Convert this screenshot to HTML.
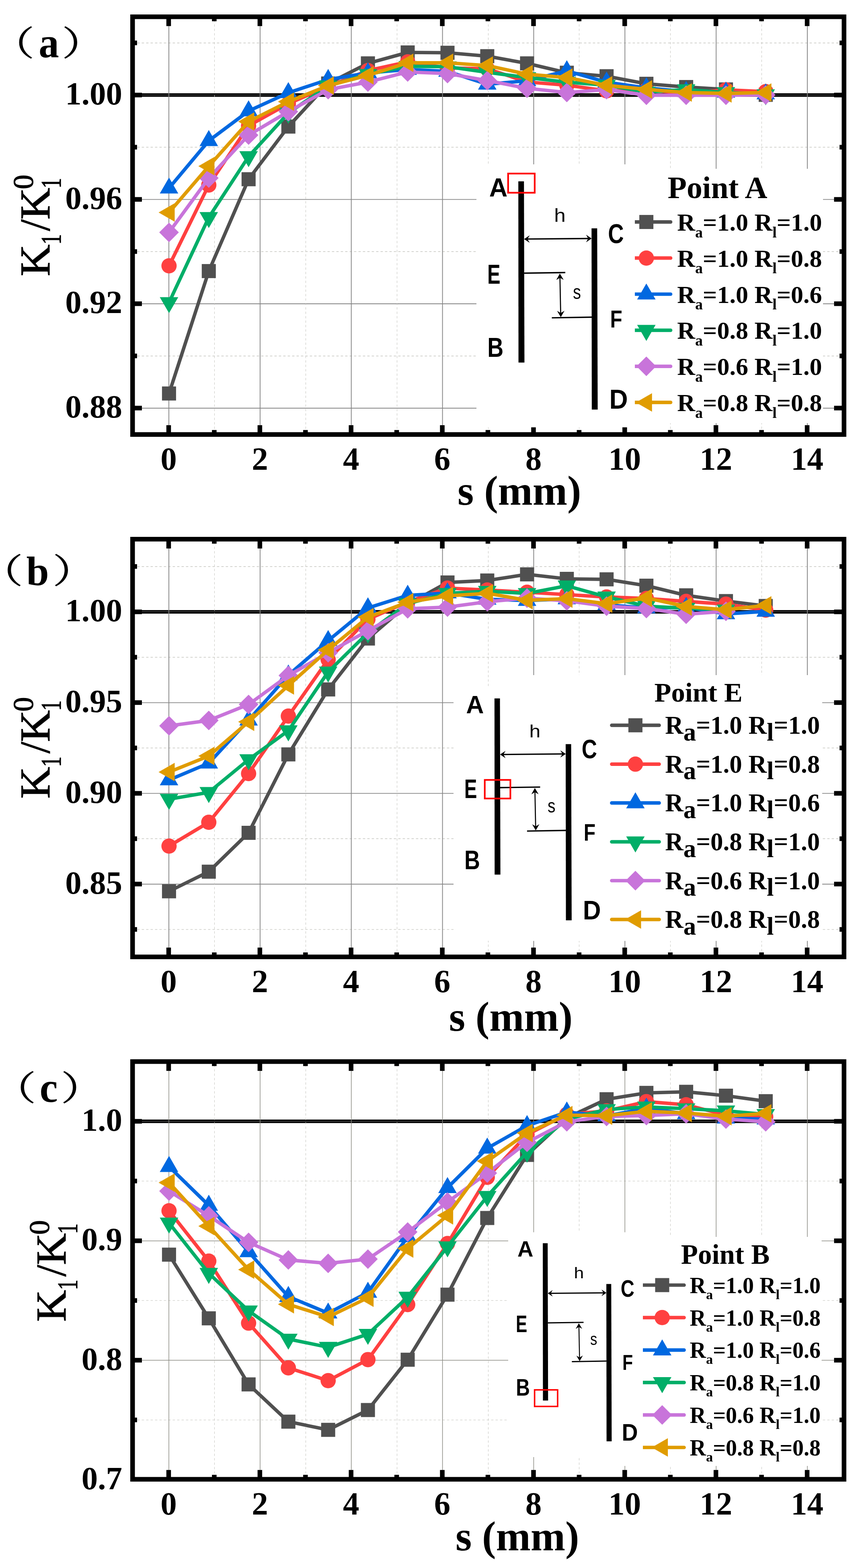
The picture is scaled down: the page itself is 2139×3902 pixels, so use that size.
<!DOCTYPE html>
<html lang="en"><head><meta charset="utf-8"><title>K1/K1^0 versus s</title>
<style>
html,body{margin:0;padding:0;background:#fff;overflow:hidden}
svg{display:block}
text{fill:#000}
</style></head>
<body>
<svg width="2139" height="3902" viewBox="0 0 2139 3902">
<rect width="2139" height="3902" fill="#fff"/>
<g stroke="#cdcdc8" fill="none" stroke-dasharray="5.8 5.2">
<path d="M341.5,106.8 H2093.5" stroke-width="1.7"/>
<path d="M341.5,366.4 H2093.5" stroke-width="1.7"/>
<path d="M341.5,626.1 H2093.5" stroke-width="1.7"/>
<path d="M341.5,885.8 H2093.5" stroke-width="1.7"/>
</g>
<g stroke="#858585" stroke-width="1.9" fill="none">
<path d="M335.5,496.4 H2093.5"/>
<path d="M335.5,756.0 H2093.5"/>
<path d="M335.5,1015.7 H2093.5"/>
</g>
<rect x="335.5" y="232.15" width="1758.0" height="8.7" fill="#000"/>
<rect x="335.5" y="236.00" width="1758.0" height="0.9" fill="#888"/>
<g stroke="#c6c6c1" fill="none" stroke-dasharray="5.8 5.2" stroke-width="1.1">
<path d="M533.5,49.5 V1075.5"/>
<path d="M760.5,49.5 V1075.5"/>
<path d="M987.5,49.5 V1075.5"/>
<path d="M1214.5,49.5 V1075.5"/>
<path d="M1440.5,49.5 V1075.5"/>
<path d="M1667.5,49.5 V1075.5"/>
<path d="M1894.5,49.5 V1075.5"/>
</g>
<g stroke="#858585" stroke-width="1.9" fill="none">
<path d="M420.0,47.5 V1075.5"/>
<path d="M646.9,47.5 V1075.5"/>
<path d="M873.7,47.5 V1075.5"/>
<path d="M1100.6,47.5 V1075.5"/>
<path d="M1327.4,47.5 V1075.5"/>
<path d="M1554.3,47.5 V1075.5"/>
<path d="M1781.2,47.5 V1075.5"/>
<path d="M2008.0,47.5 V1075.5"/>
</g>
<polyline points="420.4,979.2 519.3,674.6 618.3,446.0 717.2,315.0 816.2,207.8 915.1,157.7 1014.0,130.5 1113.0,131.3 1211.9,139.8 1310.9,157.7 1409.8,181.0 1508.7,189.7 1607.7,208.5 1706.6,216.6 1805.6,222.5 1904.5,236.0" fill="none" stroke="#505050" stroke-width="8.6" stroke-linejoin="round"/>
<rect x="402.9" y="961.7" width="35" height="35" fill="#505050"/><rect x="501.8" y="657.1" width="35" height="35" fill="#505050"/><rect x="600.8" y="428.5" width="35" height="35" fill="#505050"/><rect x="699.7" y="297.5" width="35" height="35" fill="#505050"/><rect x="798.7" y="190.3" width="35" height="35" fill="#505050"/><rect x="897.6" y="140.2" width="35" height="35" fill="#505050"/><rect x="996.5" y="113.0" width="35" height="35" fill="#505050"/><rect x="1095.5" y="113.8" width="35" height="35" fill="#505050"/><rect x="1194.4" y="122.3" width="35" height="35" fill="#505050"/><rect x="1293.4" y="140.2" width="35" height="35" fill="#505050"/><rect x="1392.3" y="163.5" width="35" height="35" fill="#505050"/><rect x="1491.2" y="172.2" width="35" height="35" fill="#505050"/><rect x="1590.2" y="191.0" width="35" height="35" fill="#505050"/><rect x="1689.1" y="199.1" width="35" height="35" fill="#505050"/><rect x="1788.1" y="205.0" width="35" height="35" fill="#505050"/><rect x="1887.0" y="218.5" width="35" height="35" fill="#505050"/>
<polyline points="420.4,661.5 519.3,460.4 618.3,313.0 717.2,258.0 816.2,215.0 915.1,175.5 1014.0,154.0 1113.0,169.0 1211.9,171.0 1310.9,204.0 1409.8,212.0 1508.7,226.0 1607.7,224.5 1706.6,232.0 1805.6,223.5 1904.5,228.0" fill="none" stroke="#FF4040" stroke-width="8.6" stroke-linejoin="round"/>
<circle cx="420.4" cy="661.5" r="19" fill="#FF4040"/><circle cx="519.3" cy="460.4" r="19" fill="#FF4040"/><circle cx="618.3" cy="313.0" r="19" fill="#FF4040"/><circle cx="717.2" cy="258.0" r="19" fill="#FF4040"/><circle cx="816.2" cy="215.0" r="19" fill="#FF4040"/><circle cx="915.1" cy="175.5" r="19" fill="#FF4040"/><circle cx="1014.0" cy="154.0" r="19" fill="#FF4040"/><circle cx="1113.0" cy="169.0" r="19" fill="#FF4040"/><circle cx="1211.9" cy="171.0" r="19" fill="#FF4040"/><circle cx="1310.9" cy="204.0" r="19" fill="#FF4040"/><circle cx="1409.8" cy="212.0" r="19" fill="#FF4040"/><circle cx="1508.7" cy="226.0" r="19" fill="#FF4040"/><circle cx="1607.7" cy="224.5" r="19" fill="#FF4040"/><circle cx="1706.6" cy="232.0" r="19" fill="#FF4040"/><circle cx="1805.6" cy="223.5" r="19" fill="#FF4040"/><circle cx="1904.5" cy="228.0" r="19" fill="#FF4040"/>
<polyline points="420.4,468.3 519.3,350.2 618.3,276.2 717.2,230.8 816.2,198.0 915.1,181.5 1014.0,173.0 1113.0,177.6 1211.9,209.6 1310.9,201.0 1409.8,176.4 1508.7,204.7 1607.7,218.7 1706.6,228.0 1805.6,229.7 1904.5,234.0" fill="none" stroke="#0068E0" stroke-width="8.6" stroke-linejoin="round"/>
<polygon points="420.4,441.7 397.4,481.6 443.4,481.6" fill="#0068E0"/><polygon points="519.3,323.6 496.3,363.5 542.3,363.5" fill="#0068E0"/><polygon points="618.3,249.6 595.3,289.5 641.3,289.5" fill="#0068E0"/><polygon points="717.2,204.2 694.2,244.1 740.2,244.1" fill="#0068E0"/><polygon points="816.2,171.4 793.2,211.3 839.2,211.3" fill="#0068E0"/><polygon points="915.1,154.9 892.1,194.8 938.1,194.8" fill="#0068E0"/><polygon points="1014.0,146.4 991.0,186.3 1037.0,186.3" fill="#0068E0"/><polygon points="1113.0,151.0 1090.0,190.9 1136.0,190.9" fill="#0068E0"/><polygon points="1211.9,183.0 1188.9,222.9 1234.9,222.9" fill="#0068E0"/><polygon points="1310.9,174.4 1287.9,214.3 1333.9,214.3" fill="#0068E0"/><polygon points="1409.8,149.8 1386.8,189.7 1432.8,189.7" fill="#0068E0"/><polygon points="1508.7,178.1 1485.7,218.0 1531.7,218.0" fill="#0068E0"/><polygon points="1607.7,192.1 1584.7,232.0 1630.7,232.0" fill="#0068E0"/><polygon points="1706.6,201.4 1683.6,241.3 1729.6,241.3" fill="#0068E0"/><polygon points="1805.6,203.1 1782.6,243.0 1828.6,243.0" fill="#0068E0"/><polygon points="1904.5,207.4 1881.5,247.3 1927.5,247.3" fill="#0068E0"/>
<polyline points="420.4,752.7 519.3,541.0 618.3,389.5 717.2,281.3 816.2,213.5 915.1,185.0 1014.0,165.0 1113.0,166.0 1211.9,180.0 1310.9,193.0 1409.8,204.5 1508.7,212.0 1607.7,229.0 1706.6,223.0 1805.6,230.0 1904.5,235.5" fill="none" stroke="#00AE68" stroke-width="8.6" stroke-linejoin="round"/>
<polygon points="420.4,779.3 397.4,739.4 443.4,739.4" fill="#00AE68"/><polygon points="519.3,567.6 496.3,527.7 542.3,527.7" fill="#00AE68"/><polygon points="618.3,416.1 595.3,376.2 641.3,376.2" fill="#00AE68"/><polygon points="717.2,307.9 694.2,268.0 740.2,268.0" fill="#00AE68"/><polygon points="816.2,240.1 793.2,200.2 839.2,200.2" fill="#00AE68"/><polygon points="915.1,211.6 892.1,171.7 938.1,171.7" fill="#00AE68"/><polygon points="1014.0,191.6 991.0,151.7 1037.0,151.7" fill="#00AE68"/><polygon points="1113.0,192.6 1090.0,152.7 1136.0,152.7" fill="#00AE68"/><polygon points="1211.9,206.6 1188.9,166.7 1234.9,166.7" fill="#00AE68"/><polygon points="1310.9,219.6 1287.9,179.7 1333.9,179.7" fill="#00AE68"/><polygon points="1409.8,231.1 1386.8,191.2 1432.8,191.2" fill="#00AE68"/><polygon points="1508.7,238.6 1485.7,198.7 1531.7,198.7" fill="#00AE68"/><polygon points="1607.7,255.6 1584.7,215.7 1630.7,215.7" fill="#00AE68"/><polygon points="1706.6,249.6 1683.6,209.7 1729.6,209.7" fill="#00AE68"/><polygon points="1805.6,256.6 1782.6,216.7 1828.6,216.7" fill="#00AE68"/><polygon points="1904.5,262.1 1881.5,222.2 1927.5,222.2" fill="#00AE68"/>
<polyline points="420.4,578.3 519.3,443.1 618.3,336.2 717.2,277.8 816.2,223.0 915.1,204.2 1014.0,179.2 1113.0,183.0 1211.9,200.6 1310.9,219.7 1409.8,230.2 1508.7,223.0 1607.7,237.0 1706.6,237.0 1805.6,237.0 1904.5,236.3" fill="none" stroke="#C874DA" stroke-width="8.6" stroke-linejoin="round"/>
<polygon points="420.4,553.9 444.8,578.3 420.4,602.7 396.0,578.3" fill="#C874DA"/><polygon points="519.3,418.7 543.7,443.1 519.3,467.5 494.9,443.1" fill="#C874DA"/><polygon points="618.3,311.8 642.7,336.2 618.3,360.6 593.9,336.2" fill="#C874DA"/><polygon points="717.2,253.4 741.6,277.8 717.2,302.2 692.8,277.8" fill="#C874DA"/><polygon points="816.2,198.6 840.6,223.0 816.2,247.4 791.8,223.0" fill="#C874DA"/><polygon points="915.1,179.8 939.5,204.2 915.1,228.6 890.7,204.2" fill="#C874DA"/><polygon points="1014.0,154.8 1038.4,179.2 1014.0,203.6 989.6,179.2" fill="#C874DA"/><polygon points="1113.0,158.6 1137.4,183.0 1113.0,207.4 1088.6,183.0" fill="#C874DA"/><polygon points="1211.9,176.2 1236.3,200.6 1211.9,225.0 1187.5,200.6" fill="#C874DA"/><polygon points="1310.9,195.3 1335.3,219.7 1310.9,244.1 1286.5,219.7" fill="#C874DA"/><polygon points="1409.8,205.8 1434.2,230.2 1409.8,254.6 1385.4,230.2" fill="#C874DA"/><polygon points="1508.7,198.6 1533.1,223.0 1508.7,247.4 1484.3,223.0" fill="#C874DA"/><polygon points="1607.7,212.6 1632.1,237.0 1607.7,261.4 1583.3,237.0" fill="#C874DA"/><polygon points="1706.6,212.6 1731.0,237.0 1706.6,261.4 1682.2,237.0" fill="#C874DA"/><polygon points="1805.6,212.6 1830.0,237.0 1805.6,261.4 1781.2,237.0" fill="#C874DA"/><polygon points="1904.5,211.9 1928.9,236.3 1904.5,260.7 1880.1,236.3" fill="#C874DA"/>
<polyline points="420.4,528.7 519.3,413.5 618.3,302.6 717.2,253.0 816.2,213.0 915.1,187.5 1014.0,156.3 1113.0,156.2 1211.9,163.2 1310.9,184.6 1409.8,193.0 1508.7,212.4 1607.7,222.4 1706.6,230.3 1805.6,232.4 1904.5,230.3" fill="none" stroke="#E09C00" stroke-width="8.6" stroke-linejoin="round"/>
<polygon points="394.5,528.7 434.5,505.7 434.5,551.7" fill="#E09C00"/><polygon points="493.4,413.5 533.4,390.5 533.4,436.5" fill="#E09C00"/><polygon points="592.4,302.6 632.4,279.6 632.4,325.6" fill="#E09C00"/><polygon points="691.3,253.0 731.3,230.0 731.3,276.0" fill="#E09C00"/><polygon points="790.3,213.0 830.3,190.0 830.3,236.0" fill="#E09C00"/><polygon points="889.2,187.5 929.2,164.5 929.2,210.5" fill="#E09C00"/><polygon points="988.1,156.3 1028.1,133.3 1028.1,179.3" fill="#E09C00"/><polygon points="1087.1,156.2 1127.1,133.2 1127.1,179.2" fill="#E09C00"/><polygon points="1186.0,163.2 1226.0,140.2 1226.0,186.2" fill="#E09C00"/><polygon points="1285.0,184.6 1325.0,161.6 1325.0,207.6" fill="#E09C00"/><polygon points="1383.9,193.0 1423.9,170.0 1423.9,216.0" fill="#E09C00"/><polygon points="1482.8,212.4 1522.8,189.4 1522.8,235.4" fill="#E09C00"/><polygon points="1581.8,222.4 1621.8,199.4 1621.8,245.4" fill="#E09C00"/><polygon points="1680.7,230.3 1720.7,207.3 1720.7,253.3" fill="#E09C00"/><polygon points="1779.7,232.4 1819.7,209.4 1819.7,255.4" fill="#E09C00"/><polygon points="1878.6,230.3 1918.6,207.3 1918.6,253.3" fill="#E09C00"/>
<rect x="1560" y="420" width="487" height="633" fill="#fff"/>
<text x="1660.5" y="493.2" style='font-family:"Liberation Serif","Noto Serif CJK SC",serif;font-weight:bold;font-size:77.7px'>Point A</text>
<line x1="1555" y1="552.4" x2="1668" y2="552.4" stroke="#505050" stroke-width="8.7" stroke-linecap="round"/>
<rect x="1590.1" y="534.9" width="35" height="35" fill="#505050"/>
<text x="1684.3" y="574.0" style='font-family:"Liberation Serif","Noto Serif CJK SC",serif;font-weight:bold;font-size:62px'>R<tspan dy="16.5" style="font-size:38px">a</tspan><tspan dy="-16.5">=1.0 R</tspan><tspan dy="16.5" style="font-size:38px">l</tspan><tspan dy="-16.5">=1.0</tspan></text>
<line x1="1555" y1="642.2" x2="1668" y2="642.2" stroke="#FF4040" stroke-width="8.7" stroke-linecap="round"/>
<circle cx="1607.6" cy="642.2" r="19" fill="#FF4040"/>
<text x="1684.3" y="663.8" style='font-family:"Liberation Serif","Noto Serif CJK SC",serif;font-weight:bold;font-size:62px'>R<tspan dy="16.5" style="font-size:38px">a</tspan><tspan dy="-16.5">=1.0 R</tspan><tspan dy="16.5" style="font-size:38px">l</tspan><tspan dy="-16.5">=0.8</tspan></text>
<line x1="1555" y1="732.0" x2="1668" y2="732.0" stroke="#0068E0" stroke-width="8.7" stroke-linecap="round"/>
<polygon points="1607.6,705.4 1584.6,745.3 1630.6,745.3" fill="#0068E0"/>
<text x="1684.3" y="753.6" style='font-family:"Liberation Serif","Noto Serif CJK SC",serif;font-weight:bold;font-size:62px'>R<tspan dy="16.5" style="font-size:38px">a</tspan><tspan dy="-16.5">=1.0 R</tspan><tspan dy="16.5" style="font-size:38px">l</tspan><tspan dy="-16.5">=0.6</tspan></text>
<line x1="1555" y1="821.8" x2="1668" y2="821.8" stroke="#00AE68" stroke-width="8.7" stroke-linecap="round"/>
<polygon points="1607.6,848.4 1584.6,808.5 1630.6,808.5" fill="#00AE68"/>
<text x="1684.3" y="843.4" style='font-family:"Liberation Serif","Noto Serif CJK SC",serif;font-weight:bold;font-size:62px'>R<tspan dy="16.5" style="font-size:38px">a</tspan><tspan dy="-16.5">=0.8 R</tspan><tspan dy="16.5" style="font-size:38px">l</tspan><tspan dy="-16.5">=1.0</tspan></text>
<line x1="1555" y1="911.6" x2="1668" y2="911.6" stroke="#C874DA" stroke-width="8.7" stroke-linecap="round"/>
<polygon points="1607.6,887.2 1632.0,911.6 1607.6,936.0 1583.2,911.6" fill="#C874DA"/>
<text x="1684.3" y="933.2" style='font-family:"Liberation Serif","Noto Serif CJK SC",serif;font-weight:bold;font-size:62px'>R<tspan dy="16.5" style="font-size:38px">a</tspan><tspan dy="-16.5">=0.6 R</tspan><tspan dy="16.5" style="font-size:38px">l</tspan><tspan dy="-16.5">=1.0</tspan></text>
<line x1="1555" y1="1001.4" x2="1668" y2="1001.4" stroke="#E09C00" stroke-width="8.7" stroke-linecap="round"/>
<polygon points="1581.7,1001.4 1621.7,978.4 1621.7,1024.4" fill="#E09C00"/>
<text x="1684.3" y="1023.0" style='font-family:"Liberation Serif","Noto Serif CJK SC",serif;font-weight:bold;font-size:62px'>R<tspan dy="16.5" style="font-size:38px">a</tspan><tspan dy="-16.5">=0.8 R</tspan><tspan dy="16.5" style="font-size:38px">l</tspan><tspan dy="-16.5">=0.8</tspan></text>
<g fill="#000">
<rect x="413.75" y="46.5" width="11.5" height="18.4"/>
<rect x="413.75" y="1058.1" width="11.5" height="18.4"/>
<rect x="527.18" y="46.5" width="11.5" height="6.4"/>
<rect x="527.18" y="1070.1" width="11.5" height="6.4"/>
<rect x="640.61" y="46.5" width="11.5" height="18.4"/>
<rect x="640.61" y="1058.1" width="11.5" height="18.4"/>
<rect x="754.04" y="46.5" width="11.5" height="6.4"/>
<rect x="754.04" y="1070.1" width="11.5" height="6.4"/>
<rect x="867.47" y="46.5" width="11.5" height="18.4"/>
<rect x="867.47" y="1058.1" width="11.5" height="18.4"/>
<rect x="980.90" y="46.5" width="11.5" height="6.4"/>
<rect x="980.90" y="1070.1" width="11.5" height="6.4"/>
<rect x="1094.33" y="46.5" width="11.5" height="18.4"/>
<rect x="1094.33" y="1058.1" width="11.5" height="18.4"/>
<rect x="1207.76" y="46.5" width="11.5" height="6.4"/>
<rect x="1207.76" y="1070.1" width="11.5" height="6.4"/>
<rect x="1321.19" y="46.5" width="11.5" height="18.4"/>
<rect x="1321.19" y="1058.1" width="11.5" height="18.4"/>
<rect x="1434.62" y="46.5" width="11.5" height="6.4"/>
<rect x="1434.62" y="1070.1" width="11.5" height="6.4"/>
<rect x="1548.05" y="46.5" width="11.5" height="18.4"/>
<rect x="1548.05" y="1058.1" width="11.5" height="18.4"/>
<rect x="1661.48" y="46.5" width="11.5" height="6.4"/>
<rect x="1661.48" y="1070.1" width="11.5" height="6.4"/>
<rect x="1774.91" y="46.5" width="11.5" height="18.4"/>
<rect x="1774.91" y="1058.1" width="11.5" height="18.4"/>
<rect x="1888.34" y="46.5" width="11.5" height="6.4"/>
<rect x="1888.34" y="1070.1" width="11.5" height="6.4"/>
<rect x="2001.77" y="46.5" width="11.5" height="18.4"/>
<rect x="2001.77" y="1058.1" width="11.5" height="18.4"/>
<rect x="334.5" y="230.75" width="18.4" height="11.5"/>
<rect x="2074.5" y="230.75" width="20" height="11.5"/>
<rect x="334.5" y="490.45" width="18.4" height="11.5"/>
<rect x="2074.5" y="490.45" width="20" height="11.5"/>
<rect x="334.5" y="750.05" width="18.4" height="11.5"/>
<rect x="2074.5" y="750.05" width="20" height="11.5"/>
<rect x="334.5" y="1009.75" width="18.4" height="11.5"/>
<rect x="2074.5" y="1009.75" width="20" height="11.5"/>
<rect x="334.5" y="100.95" width="6.4" height="11.5"/>
<rect x="2088.1" y="100.95" width="6.4" height="11.5"/>
<rect x="334.5" y="360.55" width="6.4" height="11.5"/>
<rect x="2088.1" y="360.55" width="6.4" height="11.5"/>
<rect x="334.5" y="620.25" width="6.4" height="11.5"/>
<rect x="2088.1" y="620.25" width="6.4" height="11.5"/>
<rect x="334.5" y="879.95" width="6.4" height="11.5"/>
<rect x="2088.1" y="879.95" width="6.4" height="11.5"/>
</g>
<rect x="329.75" y="41.75" width="1769.5" height="1039.5" fill="none" stroke="#000" stroke-width="11.5"/>
<rect x="1185" y="409" width="394" height="654.4000000000001" fill="#fff"/>
<g transform="translate(1288.0,451.3) scale(1.0)">
<polygon points="1.2,0 15.2,0 16.4,451 1.6,451" fill="#000"/>
<polygon points="183.3,117 197.3,117 198.6,568 183.9,568" fill="#000"/>
<g stroke="#000" fill="none" stroke-linecap="butt">
<path d="M18,143.6 L181,142.2" stroke-width="3.4"/>
<path d="M15.5,228.4 L118,227" stroke-width="3.4"/>
<path d="M84.5,339.6 L184,337.9" stroke-width="3.4"/>
<path d="M104.6,234 L106.6,334" stroke-width="2.7"/>
</g>
<g fill="#000">
<polygon points="15.5,143.6 29.5,134.2 24,143.6 29.5,153"/>
<polygon points="183.5,142.2 169.5,132.8 175,142.2 169.5,151.6"/>
<polygon points="104.5,229.5 95.5,245.5 104.7,240 114,245.3"/>
<polygon points="106.8,338 97.5,322.2 106.7,327.6 116,322"/>
</g>
<text transform="translate(-71.3,37.9) scale(0.985,1)" style='font-family:"Liberation Sans","Noto Sans CJK SC",sans-serif;font-weight:bold;font-size:64px'>A</text>
<text transform="translate(-76.1,255) scale(0.713,1)" style='font-family:"Liberation Sans","Noto Sans CJK SC",sans-serif;font-weight:bold;font-size:68.6px'>E</text>
<text transform="translate(-75.8,436.9) scale(0.808,1)" style='font-family:"Liberation Sans","Noto Sans CJK SC",sans-serif;font-weight:bold;font-size:68.6px'>B</text>
<text transform="translate(224.3,153.2) scale(0.794,1)" style='font-family:"Liberation Sans","Noto Sans CJK SC",sans-serif;font-weight:bold;font-size:68.6px'>C</text>
<text transform="translate(229.4,363.6) scale(0.81,1)" style='font-family:"Liberation Sans","Noto Sans CJK SC",sans-serif;font-weight:bold;font-size:61px'>F</text>
<text transform="translate(227.4,565.4) scale(0.932,1)" style='font-family:"Liberation Sans","Noto Sans CJK SC",sans-serif;font-weight:bold;font-size:68.6px'>D</text>
<text transform="translate(90.3,100.3) scale(1.13,1)" style='font-family:"Liberation Sans","Noto Sans CJK SC",sans-serif;font-size:45.5px'>h</text>
<text transform="translate(137,292.2) scale(0.8,1)" style='font-family:"Liberation Sans","Noto Sans CJK SC",sans-serif;font-size:50px'>s</text>
<rect x="-24.2" y="-19.4" width="66.1" height="47.7" fill="none" stroke="#FF0000" stroke-width="4.2"/>
</g>
<text x="419.5" y="1168.6" text-anchor="middle" style='font-family:"Liberation Serif","Noto Serif CJK SC",serif;font-weight:bold;font-size:81px'>0</text>
<text x="646.4" y="1168.6" text-anchor="middle" style='font-family:"Liberation Serif","Noto Serif CJK SC",serif;font-weight:bold;font-size:81px'>2</text>
<text x="873.2" y="1168.6" text-anchor="middle" style='font-family:"Liberation Serif","Noto Serif CJK SC",serif;font-weight:bold;font-size:81px'>4</text>
<text x="1100.1" y="1168.6" text-anchor="middle" style='font-family:"Liberation Serif","Noto Serif CJK SC",serif;font-weight:bold;font-size:81px'>6</text>
<text x="1326.9" y="1168.6" text-anchor="middle" style='font-family:"Liberation Serif","Noto Serif CJK SC",serif;font-weight:bold;font-size:81px'>8</text>
<text x="1553.8" y="1168.6" text-anchor="middle" style='font-family:"Liberation Serif","Noto Serif CJK SC",serif;font-weight:bold;font-size:81px'>10</text>
<text x="1780.7" y="1168.6" text-anchor="middle" style='font-family:"Liberation Serif","Noto Serif CJK SC",serif;font-weight:bold;font-size:81px'>12</text>
<text x="2007.5" y="1168.6" text-anchor="middle" style='font-family:"Liberation Serif","Noto Serif CJK SC",serif;font-weight:bold;font-size:81px'>14</text>
<text x="304.0" y="260.1" text-anchor="end" style='font-family:"Liberation Serif","Noto Serif CJK SC",serif;font-weight:bold;font-size:81px'>1.00</text>
<text x="304.0" y="519.8" text-anchor="end" style='font-family:"Liberation Serif","Noto Serif CJK SC",serif;font-weight:bold;font-size:81px'>0.96</text>
<text x="304.0" y="779.4" text-anchor="end" style='font-family:"Liberation Serif","Noto Serif CJK SC",serif;font-weight:bold;font-size:81px'>0.92</text>
<text x="304.0" y="1039.1" text-anchor="end" style='font-family:"Liberation Serif","Noto Serif CJK SC",serif;font-weight:bold;font-size:81px'>0.88</text>
<text x="1138.0" y="1256.3" style='font-family:"Liberation Serif","Noto Serif CJK SC",serif;font-weight:bold;font-size:103.5px'>s (mm)</text>
<g transform="translate(123.0,685.0) rotate(-90)"><text transform="translate(-2.6,0) scale(1.045,1)" style='font-family:"Liberation Serif","Noto Serif CJK SC",serif;font-size:105px;stroke:#000;stroke-width:1.1px'>K</text><text transform="translate(76.5,28.3) scale(0.72,1)" style='font-family:"Liberation Serif","Noto Serif CJK SC",serif;font-size:72px;stroke:#000;stroke-width:1.3px'>1</text><text transform="translate(110,0) scale(1,1)" style='font-family:"Liberation Serif","Noto Serif CJK SC",serif;font-size:105px;stroke:#000;stroke-width:1.1px'>/</text><text transform="translate(138.6,0) scale(1.045,1)" style='font-family:"Liberation Serif","Noto Serif CJK SC",serif;font-size:105px;stroke:#000;stroke-width:1.1px'>K</text><text transform="translate(214.2,-41) scale(1,1)" style='font-family:"Liberation Serif","Noto Serif CJK SC",serif;font-size:72px;stroke:#000;stroke-width:1.3px'>0</text><text transform="translate(216.3,28.3) scale(0.72,1)" style='font-family:"Liberation Serif","Noto Serif CJK SC",serif;font-size:72px;stroke:#000;stroke-width:1.3px'>1</text></g>
<text transform="translate(-21.4,137.5) scale(1.02,0.806)" style='font-family:"Noto Serif CJK SC","Liberation Serif",serif;font-size:105px;stroke:#000;stroke-width:1.3px'>（</text>
<text transform="translate(96.2,142.0) scale(1,1.05)" style='font-family:"Liberation Serif","Noto Serif CJK SC",serif;font-weight:bold;font-size:101px'>a</text>
<text transform="translate(154.0,137.5) scale(1.02,0.806)" style='font-family:"Noto Serif CJK SC","Liberation Serif",serif;font-size:105px;stroke:#000;stroke-width:1.3px'>）</text>
<g stroke="#cdcdc8" fill="none" stroke-dasharray="5.8 5.2">
<path d="M341.5,1409.8 H2093.5" stroke-width="1.7"/>
<path d="M341.5,1635.6 H2093.5" stroke-width="1.7"/>
<path d="M341.5,1861.4 H2093.5" stroke-width="1.7"/>
<path d="M341.5,2087.2 H2093.5" stroke-width="1.7"/>
<path d="M341.5,2313.0 H2093.5" stroke-width="1.7"/>
</g>
<g stroke="#858585" stroke-width="1.9" fill="none">
<path d="M335.5,1748.6 H2093.5"/>
<path d="M335.5,1974.4 H2093.5"/>
<path d="M335.5,2200.2 H2093.5"/>
</g>
<rect x="335.5" y="1518.25" width="1758.0" height="8.7" fill="#000"/>
<rect x="335.5" y="1522.10" width="1758.0" height="0.9" fill="#888"/>
<g stroke="#c6c6c1" fill="none" stroke-dasharray="5.8 5.2" stroke-width="1.1">
<path d="M533.5,1349.5 V2375.5"/>
<path d="M760.5,1349.5 V2375.5"/>
<path d="M987.5,1349.5 V2375.5"/>
<path d="M1214.5,1349.5 V2375.5"/>
<path d="M1440.5,1349.5 V2375.5"/>
<path d="M1667.5,1349.5 V2375.5"/>
<path d="M1894.5,1349.5 V2375.5"/>
</g>
<g stroke="#858585" stroke-width="1.9" fill="none">
<path d="M420.0,1347.5 V2375.5"/>
<path d="M646.9,1347.5 V2375.5"/>
<path d="M873.7,1347.5 V2375.5"/>
<path d="M1100.6,1347.5 V2375.5"/>
<path d="M1327.4,1347.5 V2375.5"/>
<path d="M1554.3,1347.5 V2375.5"/>
<path d="M1781.2,1347.5 V2375.5"/>
<path d="M2008.0,1347.5 V2375.5"/>
</g>
<polyline points="420.4,2218.0 519.3,2169.2 618.3,2072.5 717.2,1877.3 816.2,1715.7 915.1,1589.0 1014.0,1504.0 1113.0,1449.5 1211.9,1444.6 1310.9,1429.3 1409.8,1440.5 1508.7,1441.7 1607.7,1457.5 1706.6,1481.5 1805.6,1495.8 1904.5,1508.0" fill="none" stroke="#505050" stroke-width="8.6" stroke-linejoin="round"/>
<rect x="402.9" y="2200.5" width="35" height="35" fill="#505050"/><rect x="501.8" y="2151.7" width="35" height="35" fill="#505050"/><rect x="600.8" y="2055.0" width="35" height="35" fill="#505050"/><rect x="699.7" y="1859.8" width="35" height="35" fill="#505050"/><rect x="798.7" y="1698.2" width="35" height="35" fill="#505050"/><rect x="897.6" y="1571.5" width="35" height="35" fill="#505050"/><rect x="996.5" y="1486.5" width="35" height="35" fill="#505050"/><rect x="1095.5" y="1432.0" width="35" height="35" fill="#505050"/><rect x="1194.4" y="1427.1" width="35" height="35" fill="#505050"/><rect x="1293.4" y="1411.8" width="35" height="35" fill="#505050"/><rect x="1392.3" y="1423.0" width="35" height="35" fill="#505050"/><rect x="1491.2" y="1424.2" width="35" height="35" fill="#505050"/><rect x="1590.2" y="1440.0" width="35" height="35" fill="#505050"/><rect x="1689.1" y="1464.0" width="35" height="35" fill="#505050"/><rect x="1788.1" y="1478.3" width="35" height="35" fill="#505050"/><rect x="1887.0" y="1490.5" width="35" height="35" fill="#505050"/>
<polyline points="420.4,2105.5 519.3,2046.3 618.3,1924.9 717.2,1782.0 816.2,1641.3 915.1,1541.0 1014.0,1498.0 1113.0,1463.5 1211.9,1468.2 1310.9,1473.8 1409.8,1479.7 1508.7,1485.6 1607.7,1489.2 1706.6,1496.6 1805.6,1503.4 1904.5,1518.3" fill="none" stroke="#FF4040" stroke-width="8.6" stroke-linejoin="round"/>
<circle cx="420.4" cy="2105.5" r="19" fill="#FF4040"/><circle cx="519.3" cy="2046.3" r="19" fill="#FF4040"/><circle cx="618.3" cy="1924.9" r="19" fill="#FF4040"/><circle cx="717.2" cy="1782.0" r="19" fill="#FF4040"/><circle cx="816.2" cy="1641.3" r="19" fill="#FF4040"/><circle cx="915.1" cy="1541.0" r="19" fill="#FF4040"/><circle cx="1014.0" cy="1498.0" r="19" fill="#FF4040"/><circle cx="1113.0" cy="1463.5" r="19" fill="#FF4040"/><circle cx="1211.9" cy="1468.2" r="19" fill="#FF4040"/><circle cx="1310.9" cy="1473.8" r="19" fill="#FF4040"/><circle cx="1409.8" cy="1479.7" r="19" fill="#FF4040"/><circle cx="1508.7" cy="1485.6" r="19" fill="#FF4040"/><circle cx="1607.7" cy="1489.2" r="19" fill="#FF4040"/><circle cx="1706.6" cy="1496.6" r="19" fill="#FF4040"/><circle cx="1805.6" cy="1503.4" r="19" fill="#FF4040"/><circle cx="1904.5" cy="1518.3" r="19" fill="#FF4040"/>
<polyline points="420.4,1941.0 519.3,1899.2 618.3,1792.2 717.2,1680.0 816.2,1594.3 915.1,1512.8 1014.0,1481.7 1113.0,1475.8 1211.9,1491.4 1310.9,1494.5 1409.8,1490.4 1508.7,1505.0 1607.7,1513.0 1706.6,1511.6 1805.6,1527.6 1904.5,1521.4" fill="none" stroke="#0068E0" stroke-width="8.6" stroke-linejoin="round"/>
<polygon points="420.4,1914.4 397.4,1954.3 443.4,1954.3" fill="#0068E0"/><polygon points="519.3,1872.6 496.3,1912.5 542.3,1912.5" fill="#0068E0"/><polygon points="618.3,1765.6 595.3,1805.5 641.3,1805.5" fill="#0068E0"/><polygon points="717.2,1653.4 694.2,1693.3 740.2,1693.3" fill="#0068E0"/><polygon points="816.2,1567.7 793.2,1607.6 839.2,1607.6" fill="#0068E0"/><polygon points="915.1,1486.2 892.1,1526.1 938.1,1526.1" fill="#0068E0"/><polygon points="1014.0,1455.1 991.0,1495.0 1037.0,1495.0" fill="#0068E0"/><polygon points="1113.0,1449.2 1090.0,1489.1 1136.0,1489.1" fill="#0068E0"/><polygon points="1211.9,1464.8 1188.9,1504.7 1234.9,1504.7" fill="#0068E0"/><polygon points="1310.9,1467.9 1287.9,1507.8 1333.9,1507.8" fill="#0068E0"/><polygon points="1409.8,1463.8 1386.8,1503.7 1432.8,1503.7" fill="#0068E0"/><polygon points="1508.7,1478.4 1485.7,1518.3 1531.7,1518.3" fill="#0068E0"/><polygon points="1607.7,1486.4 1584.7,1526.3 1630.7,1526.3" fill="#0068E0"/><polygon points="1706.6,1485.0 1683.6,1524.9 1729.6,1524.9" fill="#0068E0"/><polygon points="1805.6,1501.0 1782.6,1540.9 1828.6,1540.9" fill="#0068E0"/><polygon points="1904.5,1494.8 1881.5,1534.7 1927.5,1534.7" fill="#0068E0"/>
<polyline points="420.4,1988.8 519.3,1971.8 618.3,1890.3 717.2,1818.3 816.2,1672.0 915.1,1574.7 1014.0,1502.0 1113.0,1476.6 1211.9,1471.2 1310.9,1476.8 1409.8,1457.8 1508.7,1485.4 1607.7,1508.5 1706.6,1513.5 1805.6,1517.7" fill="none" stroke="#00AE68" stroke-width="8.6" stroke-linejoin="round"/>
<polygon points="420.4,2015.4 397.4,1975.5 443.4,1975.5" fill="#00AE68"/><polygon points="519.3,1998.4 496.3,1958.5 542.3,1958.5" fill="#00AE68"/><polygon points="618.3,1916.9 595.3,1877.0 641.3,1877.0" fill="#00AE68"/><polygon points="717.2,1844.9 694.2,1805.0 740.2,1805.0" fill="#00AE68"/><polygon points="816.2,1698.6 793.2,1658.7 839.2,1658.7" fill="#00AE68"/><polygon points="915.1,1601.3 892.1,1561.4 938.1,1561.4" fill="#00AE68"/><polygon points="1014.0,1528.6 991.0,1488.7 1037.0,1488.7" fill="#00AE68"/><polygon points="1113.0,1503.2 1090.0,1463.3 1136.0,1463.3" fill="#00AE68"/><polygon points="1211.9,1497.8 1188.9,1457.9 1234.9,1457.9" fill="#00AE68"/><polygon points="1310.9,1503.4 1287.9,1463.5 1333.9,1463.5" fill="#00AE68"/><polygon points="1409.8,1484.4 1386.8,1444.5 1432.8,1444.5" fill="#00AE68"/><polygon points="1508.7,1512.0 1485.7,1472.1 1531.7,1472.1" fill="#00AE68"/><polygon points="1607.7,1535.1 1584.7,1495.2 1630.7,1495.2" fill="#00AE68"/><polygon points="1706.6,1540.1 1683.6,1500.2 1729.6,1500.2" fill="#00AE68"/><polygon points="1805.6,1544.3 1782.6,1504.4 1828.6,1504.4" fill="#00AE68"/>
<polyline points="420.4,1806.2 519.3,1792.8 618.3,1753.1 717.2,1681.0 816.2,1624.3 915.1,1569.4 1014.0,1515.0 1113.0,1510.8 1211.9,1497.4 1310.9,1488.5 1409.8,1495.2 1508.7,1508.5 1607.7,1514.3 1706.6,1528.5 1805.6,1521.3" fill="none" stroke="#C874DA" stroke-width="8.6" stroke-linejoin="round"/>
<polygon points="420.4,1781.8 444.8,1806.2 420.4,1830.6 396.0,1806.2" fill="#C874DA"/><polygon points="519.3,1768.4 543.7,1792.8 519.3,1817.2 494.9,1792.8" fill="#C874DA"/><polygon points="618.3,1728.7 642.7,1753.1 618.3,1777.5 593.9,1753.1" fill="#C874DA"/><polygon points="717.2,1656.6 741.6,1681.0 717.2,1705.4 692.8,1681.0" fill="#C874DA"/><polygon points="816.2,1599.9 840.6,1624.3 816.2,1648.7 791.8,1624.3" fill="#C874DA"/><polygon points="915.1,1545.0 939.5,1569.4 915.1,1593.8 890.7,1569.4" fill="#C874DA"/><polygon points="1014.0,1490.6 1038.4,1515.0 1014.0,1539.4 989.6,1515.0" fill="#C874DA"/><polygon points="1113.0,1486.4 1137.4,1510.8 1113.0,1535.2 1088.6,1510.8" fill="#C874DA"/><polygon points="1211.9,1473.0 1236.3,1497.4 1211.9,1521.8 1187.5,1497.4" fill="#C874DA"/><polygon points="1310.9,1464.1 1335.3,1488.5 1310.9,1512.9 1286.5,1488.5" fill="#C874DA"/><polygon points="1409.8,1470.8 1434.2,1495.2 1409.8,1519.6 1385.4,1495.2" fill="#C874DA"/><polygon points="1508.7,1484.1 1533.1,1508.5 1508.7,1532.9 1484.3,1508.5" fill="#C874DA"/><polygon points="1607.7,1489.9 1632.1,1514.3 1607.7,1538.7 1583.3,1514.3" fill="#C874DA"/><polygon points="1706.6,1504.1 1731.0,1528.5 1706.6,1552.9 1682.2,1528.5" fill="#C874DA"/><polygon points="1805.6,1496.9 1830.0,1521.3 1805.6,1545.7 1781.2,1521.3" fill="#C874DA"/>
<polyline points="420.4,1921.3 519.3,1881.3 618.3,1796.3 717.2,1705.8 816.2,1617.3 915.1,1535.8 1014.0,1498.6 1113.0,1482.8 1211.9,1476.6 1310.9,1493.7 1409.8,1489.8 1508.7,1502.3 1607.7,1488.0 1706.6,1509.4 1805.6,1517.3 1904.5,1506.4" fill="none" stroke="#E09C00" stroke-width="8.6" stroke-linejoin="round"/>
<polygon points="394.5,1921.3 434.5,1898.3 434.5,1944.3" fill="#E09C00"/><polygon points="493.4,1881.3 533.4,1858.3 533.4,1904.3" fill="#E09C00"/><polygon points="592.4,1796.3 632.4,1773.3 632.4,1819.3" fill="#E09C00"/><polygon points="691.3,1705.8 731.3,1682.8 731.3,1728.8" fill="#E09C00"/><polygon points="790.3,1617.3 830.3,1594.3 830.3,1640.3" fill="#E09C00"/><polygon points="889.2,1535.8 929.2,1512.8 929.2,1558.8" fill="#E09C00"/><polygon points="988.1,1498.6 1028.1,1475.6 1028.1,1521.6" fill="#E09C00"/><polygon points="1087.1,1482.8 1127.1,1459.8 1127.1,1505.8" fill="#E09C00"/><polygon points="1186.0,1476.6 1226.0,1453.6 1226.0,1499.6" fill="#E09C00"/><polygon points="1285.0,1493.7 1325.0,1470.7 1325.0,1516.7" fill="#E09C00"/><polygon points="1383.9,1489.8 1423.9,1466.8 1423.9,1512.8" fill="#E09C00"/><polygon points="1482.8,1502.3 1522.8,1479.3 1522.8,1525.3" fill="#E09C00"/><polygon points="1581.8,1488.0 1621.8,1465.0 1621.8,1511.0" fill="#E09C00"/><polygon points="1680.7,1509.4 1720.7,1486.4 1720.7,1532.4" fill="#E09C00"/><polygon points="1779.7,1517.3 1819.7,1494.3 1819.7,1540.3" fill="#E09C00"/><polygon points="1878.6,1506.4 1918.6,1483.4 1918.6,1529.4" fill="#E09C00"/>
<rect x="1230" y="1680" width="815" height="661.5" fill="#fff"/>
<text x="1627.6" y="1745.6" style='font-family:"Liberation Serif","Noto Serif CJK SC",serif;font-weight:bold;font-size:68.6px'>Point E</text>
<line x1="1521.5" y1="1804.9" x2="1639.5" y2="1804.9" stroke="#505050" stroke-width="8.7" stroke-linecap="round"/>
<rect x="1562.9" y="1787.4" width="35" height="35" fill="#505050"/>
<text x="1654.2" y="1826.0" style='font-family:"Liberation Serif","Noto Serif CJK SC",serif;font-weight:bold;font-size:63px'>R<tspan dy="16.7" style="font-size:63px">a</tspan><tspan dy="-16.7">=1.0 R</tspan><tspan dy="16.7" style="font-size:63px">l</tspan><tspan dy="-16.7">=1.0</tspan></text>
<line x1="1521.5" y1="1901.6" x2="1639.5" y2="1901.6" stroke="#FF4040" stroke-width="8.7" stroke-linecap="round"/>
<circle cx="1580.4" cy="1901.6" r="19" fill="#FF4040"/>
<text x="1654.2" y="1922.7" style='font-family:"Liberation Serif","Noto Serif CJK SC",serif;font-weight:bold;font-size:63px'>R<tspan dy="16.7" style="font-size:63px">a</tspan><tspan dy="-16.7">=1.0 R</tspan><tspan dy="16.7" style="font-size:63px">l</tspan><tspan dy="-16.7">=0.8</tspan></text>
<line x1="1521.5" y1="1998.2" x2="1639.5" y2="1998.2" stroke="#0068E0" stroke-width="8.7" stroke-linecap="round"/>
<polygon points="1580.4,1971.6 1557.4,2011.5 1603.4,2011.5" fill="#0068E0"/>
<text x="1654.2" y="2019.3" style='font-family:"Liberation Serif","Noto Serif CJK SC",serif;font-weight:bold;font-size:63px'>R<tspan dy="16.7" style="font-size:63px">a</tspan><tspan dy="-16.7">=1.0 R</tspan><tspan dy="16.7" style="font-size:63px">l</tspan><tspan dy="-16.7">=0.6</tspan></text>
<line x1="1521.5" y1="2094.9" x2="1639.5" y2="2094.9" stroke="#00AE68" stroke-width="8.7" stroke-linecap="round"/>
<polygon points="1580.4,2121.5 1557.4,2081.6 1603.4,2081.6" fill="#00AE68"/>
<text x="1654.2" y="2115.9" style='font-family:"Liberation Serif","Noto Serif CJK SC",serif;font-weight:bold;font-size:63px'>R<tspan dy="16.7" style="font-size:63px">a</tspan><tspan dy="-16.7">=0.8 R</tspan><tspan dy="16.7" style="font-size:63px">l</tspan><tspan dy="-16.7">=1.0</tspan></text>
<line x1="1521.5" y1="2191.5" x2="1639.5" y2="2191.5" stroke="#C874DA" stroke-width="8.7" stroke-linecap="round"/>
<polygon points="1580.4,2167.1 1604.8,2191.5 1580.4,2215.9 1556.0,2191.5" fill="#C874DA"/>
<text x="1654.2" y="2212.6" style='font-family:"Liberation Serif","Noto Serif CJK SC",serif;font-weight:bold;font-size:63px'>R<tspan dy="16.7" style="font-size:63px">a</tspan><tspan dy="-16.7">=0.6 R</tspan><tspan dy="16.7" style="font-size:63px">l</tspan><tspan dy="-16.7">=1.0</tspan></text>
<line x1="1521.5" y1="2288.2" x2="1639.5" y2="2288.2" stroke="#E09C00" stroke-width="8.7" stroke-linecap="round"/>
<polygon points="1554.5,2288.2 1594.5,2265.2 1594.5,2311.2" fill="#E09C00"/>
<text x="1654.2" y="2309.2" style='font-family:"Liberation Serif","Noto Serif CJK SC",serif;font-weight:bold;font-size:63px'>R<tspan dy="16.7" style="font-size:63px">a</tspan><tspan dy="-16.7">=0.8 R</tspan><tspan dy="16.7" style="font-size:63px">l</tspan><tspan dy="-16.7">=0.8</tspan></text>
<g fill="#000">
<rect x="413.75" y="1346.5" width="11.5" height="18.4"/>
<rect x="413.75" y="2358.1" width="11.5" height="18.4"/>
<rect x="527.18" y="1346.5" width="11.5" height="6.4"/>
<rect x="527.18" y="2370.1" width="11.5" height="6.4"/>
<rect x="640.61" y="1346.5" width="11.5" height="18.4"/>
<rect x="640.61" y="2358.1" width="11.5" height="18.4"/>
<rect x="754.04" y="1346.5" width="11.5" height="6.4"/>
<rect x="754.04" y="2370.1" width="11.5" height="6.4"/>
<rect x="867.47" y="1346.5" width="11.5" height="18.4"/>
<rect x="867.47" y="2358.1" width="11.5" height="18.4"/>
<rect x="980.90" y="1346.5" width="11.5" height="6.4"/>
<rect x="980.90" y="2370.1" width="11.5" height="6.4"/>
<rect x="1094.33" y="1346.5" width="11.5" height="18.4"/>
<rect x="1094.33" y="2358.1" width="11.5" height="18.4"/>
<rect x="1207.76" y="1346.5" width="11.5" height="6.4"/>
<rect x="1207.76" y="2370.1" width="11.5" height="6.4"/>
<rect x="1321.19" y="1346.5" width="11.5" height="18.4"/>
<rect x="1321.19" y="2358.1" width="11.5" height="18.4"/>
<rect x="1434.62" y="1346.5" width="11.5" height="6.4"/>
<rect x="1434.62" y="2370.1" width="11.5" height="6.4"/>
<rect x="1548.05" y="1346.5" width="11.5" height="18.4"/>
<rect x="1548.05" y="2358.1" width="11.5" height="18.4"/>
<rect x="1661.48" y="1346.5" width="11.5" height="6.4"/>
<rect x="1661.48" y="2370.1" width="11.5" height="6.4"/>
<rect x="1774.91" y="1346.5" width="11.5" height="18.4"/>
<rect x="1774.91" y="2358.1" width="11.5" height="18.4"/>
<rect x="1888.34" y="1346.5" width="11.5" height="6.4"/>
<rect x="1888.34" y="2370.1" width="11.5" height="6.4"/>
<rect x="2001.77" y="1346.5" width="11.5" height="18.4"/>
<rect x="2001.77" y="2358.1" width="11.5" height="18.4"/>
<rect x="334.5" y="1516.85" width="18.4" height="11.5"/>
<rect x="2074.5" y="1516.85" width="20" height="11.5"/>
<rect x="334.5" y="1742.65" width="18.4" height="11.5"/>
<rect x="2074.5" y="1742.65" width="20" height="11.5"/>
<rect x="334.5" y="1968.45" width="18.4" height="11.5"/>
<rect x="2074.5" y="1968.45" width="20" height="11.5"/>
<rect x="334.5" y="2194.25" width="18.4" height="11.5"/>
<rect x="2074.5" y="2194.25" width="20" height="11.5"/>
<rect x="334.5" y="1403.95" width="6.4" height="11.5"/>
<rect x="2088.1" y="1403.95" width="6.4" height="11.5"/>
<rect x="334.5" y="1629.75" width="6.4" height="11.5"/>
<rect x="2088.1" y="1629.75" width="6.4" height="11.5"/>
<rect x="334.5" y="1855.55" width="6.4" height="11.5"/>
<rect x="2088.1" y="1855.55" width="6.4" height="11.5"/>
<rect x="334.5" y="2081.35" width="6.4" height="11.5"/>
<rect x="2088.1" y="2081.35" width="6.4" height="11.5"/>
<rect x="334.5" y="2307.15" width="6.4" height="11.5"/>
<rect x="2088.1" y="2307.15" width="6.4" height="11.5"/>
</g>
<rect x="329.75" y="1341.75" width="1769.5" height="1039.5" fill="none" stroke="#000" stroke-width="11.5"/>
<rect x="1128" y="1710" width="377" height="631" fill="#fff"/>
<g transform="translate(1228.7,1737.9) scale(0.9725)">
<polygon points="1.2,0 15.2,0 16.4,451 1.6,451" fill="#000"/>
<polygon points="183.3,117 197.3,117 198.6,568 183.9,568" fill="#000"/>
<g stroke="#000" fill="none" stroke-linecap="butt">
<path d="M18,143.6 L181,142.2" stroke-width="3.4"/>
<path d="M15.5,228.4 L118,227" stroke-width="3.4"/>
<path d="M84.5,339.6 L184,337.9" stroke-width="3.4"/>
<path d="M104.6,234 L106.6,334" stroke-width="2.7"/>
</g>
<g fill="#000">
<polygon points="15.5,143.6 29.5,134.2 24,143.6 29.5,153"/>
<polygon points="183.5,142.2 169.5,132.8 175,142.2 169.5,151.6"/>
<polygon points="104.5,229.5 95.5,245.5 104.7,240 114,245.3"/>
<polygon points="106.8,338 97.5,322.2 106.7,327.6 116,322"/>
</g>
<text transform="translate(-71.3,37.9) scale(0.985,1)" style='font-family:"Liberation Sans","Noto Sans CJK SC",sans-serif;font-weight:bold;font-size:64px'>A</text>
<text transform="translate(-76.1,255) scale(0.713,1)" style='font-family:"Liberation Sans","Noto Sans CJK SC",sans-serif;font-weight:bold;font-size:68.6px'>E</text>
<text transform="translate(-75.8,436.9) scale(0.808,1)" style='font-family:"Liberation Sans","Noto Sans CJK SC",sans-serif;font-weight:bold;font-size:68.6px'>B</text>
<text transform="translate(224.3,153.2) scale(0.794,1)" style='font-family:"Liberation Sans","Noto Sans CJK SC",sans-serif;font-weight:bold;font-size:68.6px'>C</text>
<text transform="translate(229.4,363.6) scale(0.81,1)" style='font-family:"Liberation Sans","Noto Sans CJK SC",sans-serif;font-weight:bold;font-size:61px'>F</text>
<text transform="translate(227.4,565.4) scale(0.932,1)" style='font-family:"Liberation Sans","Noto Sans CJK SC",sans-serif;font-weight:bold;font-size:68.6px'>D</text>
<text transform="translate(90.3,100.3) scale(1.13,1)" style='font-family:"Liberation Sans","Noto Sans CJK SC",sans-serif;font-size:45.5px'>h</text>
<text transform="translate(137,292.2) scale(0.8,1)" style='font-family:"Liberation Sans","Noto Sans CJK SC",sans-serif;font-size:50px'>s</text>
<rect x="-23.65" y="208.65" width="65.5" height="47.6" fill="none" stroke="#FF0000" stroke-width="4.2"/>
</g>
<text x="419.5" y="2468.6" text-anchor="middle" style='font-family:"Liberation Serif","Noto Serif CJK SC",serif;font-weight:bold;font-size:81px'>0</text>
<text x="646.4" y="2468.6" text-anchor="middle" style='font-family:"Liberation Serif","Noto Serif CJK SC",serif;font-weight:bold;font-size:81px'>2</text>
<text x="873.2" y="2468.6" text-anchor="middle" style='font-family:"Liberation Serif","Noto Serif CJK SC",serif;font-weight:bold;font-size:81px'>4</text>
<text x="1100.1" y="2468.6" text-anchor="middle" style='font-family:"Liberation Serif","Noto Serif CJK SC",serif;font-weight:bold;font-size:81px'>6</text>
<text x="1326.9" y="2468.6" text-anchor="middle" style='font-family:"Liberation Serif","Noto Serif CJK SC",serif;font-weight:bold;font-size:81px'>8</text>
<text x="1553.8" y="2468.6" text-anchor="middle" style='font-family:"Liberation Serif","Noto Serif CJK SC",serif;font-weight:bold;font-size:81px'>10</text>
<text x="1780.7" y="2468.6" text-anchor="middle" style='font-family:"Liberation Serif","Noto Serif CJK SC",serif;font-weight:bold;font-size:81px'>12</text>
<text x="2007.5" y="2468.6" text-anchor="middle" style='font-family:"Liberation Serif","Noto Serif CJK SC",serif;font-weight:bold;font-size:81px'>14</text>
<text x="304.0" y="1546.2" text-anchor="end" style='font-family:"Liberation Serif","Noto Serif CJK SC",serif;font-weight:bold;font-size:81px'>1.00</text>
<text x="304.0" y="1772.0" text-anchor="end" style='font-family:"Liberation Serif","Noto Serif CJK SC",serif;font-weight:bold;font-size:81px'>0.95</text>
<text x="304.0" y="1997.8" text-anchor="end" style='font-family:"Liberation Serif","Noto Serif CJK SC",serif;font-weight:bold;font-size:81px'>0.90</text>
<text x="304.0" y="2223.6" text-anchor="end" style='font-family:"Liberation Serif","Noto Serif CJK SC",serif;font-weight:bold;font-size:81px'>0.85</text>
<text x="1116.7" y="2564.8" style='font-family:"Liberation Serif","Noto Serif CJK SC",serif;font-weight:bold;font-size:103.5px'>s (mm)</text>
<g transform="translate(123.0,1985.0) rotate(-90)"><text transform="translate(-2.6,0) scale(1.045,1)" style='font-family:"Liberation Serif","Noto Serif CJK SC",serif;font-size:105px;stroke:#000;stroke-width:1.1px'>K</text><text transform="translate(76.5,28.3) scale(0.72,1)" style='font-family:"Liberation Serif","Noto Serif CJK SC",serif;font-size:72px;stroke:#000;stroke-width:1.3px'>1</text><text transform="translate(110,0) scale(1,1)" style='font-family:"Liberation Serif","Noto Serif CJK SC",serif;font-size:105px;stroke:#000;stroke-width:1.1px'>/</text><text transform="translate(138.6,0) scale(1.045,1)" style='font-family:"Liberation Serif","Noto Serif CJK SC",serif;font-size:105px;stroke:#000;stroke-width:1.1px'>K</text><text transform="translate(214.2,-41) scale(1,1)" style='font-family:"Liberation Serif","Noto Serif CJK SC",serif;font-size:72px;stroke:#000;stroke-width:1.3px'>0</text><text transform="translate(216.3,28.3) scale(0.72,1)" style='font-family:"Liberation Serif","Noto Serif CJK SC",serif;font-size:72px;stroke:#000;stroke-width:1.3px'>1</text></g>
<text transform="translate(-49.9,1451.1000000000001) scale(1.02,0.806)" style='font-family:"Noto Serif CJK SC","Liberation Serif",serif;font-size:105px;stroke:#000;stroke-width:1.3px'>（</text>
<text transform="translate(65.6,1455.6000000000001) scale(1,1.0)" style='font-family:"Liberation Serif","Noto Serif CJK SC",serif;font-weight:bold;font-size:101px'>b</text>
<text transform="translate(131.1,1451.1000000000001) scale(1.02,0.806)" style='font-family:"Noto Serif CJK SC","Liberation Serif",serif;font-size:105px;stroke:#000;stroke-width:1.3px'>）</text>
<g stroke="#cdcdc8" fill="none" stroke-dasharray="5.8 5.2">
<path d="M341.5,2939.1 H2093.5" stroke-width="1.1"/>
<path d="M341.5,3236.4 H2093.5" stroke-width="1.1"/>
<path d="M341.5,3533.6 H2093.5" stroke-width="1.1"/>
</g>
<g stroke="#8a8a82" stroke-width="1.5" fill="none">
<path d="M335.5,3087.9 H2093.5"/>
<path d="M335.5,3385.1 H2093.5"/>
<path d="M335.5,3682.4 H2093.5"/>
</g>
<rect x="335.5" y="2786.05" width="1758.0" height="8.7" fill="#000"/>
<rect x="335.5" y="2789.90" width="1758.0" height="0.9" fill="#888"/>
<g stroke="#c6c6c1" fill="none" stroke-dasharray="5.8 5.2" stroke-width="1.1">
<path d="M533.5,2649.5 V3675.5"/>
<path d="M760.5,2649.5 V3675.5"/>
<path d="M987.5,2649.5 V3675.5"/>
<path d="M1214.5,2649.5 V3675.5"/>
<path d="M1440.5,2649.5 V3675.5"/>
<path d="M1667.5,2649.5 V3675.5"/>
<path d="M1894.5,2649.5 V3675.5"/>
</g>
<g stroke="#8a8a82" stroke-width="1.5" fill="none">
<path d="M420.0,2647.5 V3675.5"/>
<path d="M646.9,2647.5 V3675.5"/>
<path d="M873.7,2647.5 V3675.5"/>
<path d="M1100.6,2647.5 V3675.5"/>
<path d="M1327.4,2647.5 V3675.5"/>
<path d="M1554.3,2647.5 V3675.5"/>
<path d="M1781.2,2647.5 V3675.5"/>
<path d="M2008.0,2647.5 V3675.5"/>
</g>
<polyline points="420.4,3122.2 519.3,3280.7 618.3,3445.1 717.2,3537.8 816.2,3558.2 915.1,3508.9 1014.0,3383.7 1113.0,3221.8 1211.9,3031.0 1310.9,2874.0 1409.8,2782.0 1508.7,2735.5 1607.7,2719.7 1706.6,2717.0 1805.6,2726.7 1904.5,2740.3" fill="none" stroke="#505050" stroke-width="8.6" stroke-linejoin="round"/>
<rect x="402.9" y="3104.7" width="35" height="35" fill="#505050"/><rect x="501.8" y="3263.2" width="35" height="35" fill="#505050"/><rect x="600.8" y="3427.6" width="35" height="35" fill="#505050"/><rect x="699.7" y="3520.3" width="35" height="35" fill="#505050"/><rect x="798.7" y="3540.7" width="35" height="35" fill="#505050"/><rect x="897.6" y="3491.4" width="35" height="35" fill="#505050"/><rect x="996.5" y="3366.2" width="35" height="35" fill="#505050"/><rect x="1095.5" y="3204.3" width="35" height="35" fill="#505050"/><rect x="1194.4" y="3013.5" width="35" height="35" fill="#505050"/><rect x="1293.4" y="2856.5" width="35" height="35" fill="#505050"/><rect x="1392.3" y="2764.5" width="35" height="35" fill="#505050"/><rect x="1491.2" y="2718.0" width="35" height="35" fill="#505050"/><rect x="1590.2" y="2702.2" width="35" height="35" fill="#505050"/><rect x="1689.1" y="2699.5" width="35" height="35" fill="#505050"/><rect x="1788.1" y="2709.2" width="35" height="35" fill="#505050"/><rect x="1887.0" y="2722.8" width="35" height="35" fill="#505050"/>
<polyline points="420.4,3013.0 519.3,3138.3 618.3,3292.6 717.2,3403.9 816.2,3435.8 915.1,3383.4 1014.0,3246.4 1113.0,3094.6 1211.9,2929.8 1310.9,2823.6 1409.8,2773.0 1508.7,2764.6 1607.7,2741.4 1706.6,2749.3 1805.6,2775.0 1904.5,2779.0" fill="none" stroke="#FF4040" stroke-width="8.6" stroke-linejoin="round"/>
<circle cx="420.4" cy="3013.0" r="19" fill="#FF4040"/><circle cx="519.3" cy="3138.3" r="19" fill="#FF4040"/><circle cx="618.3" cy="3292.6" r="19" fill="#FF4040"/><circle cx="717.2" cy="3403.9" r="19" fill="#FF4040"/><circle cx="816.2" cy="3435.8" r="19" fill="#FF4040"/><circle cx="915.1" cy="3383.4" r="19" fill="#FF4040"/><circle cx="1014.0" cy="3246.4" r="19" fill="#FF4040"/><circle cx="1113.0" cy="3094.6" r="19" fill="#FF4040"/><circle cx="1211.9" cy="2929.8" r="19" fill="#FF4040"/><circle cx="1310.9" cy="2823.6" r="19" fill="#FF4040"/><circle cx="1409.8" cy="2773.0" r="19" fill="#FF4040"/><circle cx="1508.7" cy="2764.6" r="19" fill="#FF4040"/><circle cx="1607.7" cy="2741.4" r="19" fill="#FF4040"/><circle cx="1706.6" cy="2749.3" r="19" fill="#FF4040"/><circle cx="1805.6" cy="2775.0" r="19" fill="#FF4040"/><circle cx="1904.5" cy="2779.0" r="19" fill="#FF4040"/>
<polyline points="420.4,2903.2 519.3,2999.7 618.3,3115.3 717.2,3226.6 816.2,3267.8 915.1,3216.2 1014.0,3078.0 1113.0,2955.6 1211.9,2857.4 1310.9,2801.3 1409.8,2767.5 1508.7,2777.0 1607.7,2758.0 1706.6,2771.8 1805.6,2782.8 1904.5,2785.0" fill="none" stroke="#0068E0" stroke-width="8.6" stroke-linejoin="round"/>
<polygon points="420.4,2876.6 397.4,2916.5 443.4,2916.5" fill="#0068E0"/><polygon points="519.3,2973.1 496.3,3013.0 542.3,3013.0" fill="#0068E0"/><polygon points="618.3,3088.7 595.3,3128.6 641.3,3128.6" fill="#0068E0"/><polygon points="717.2,3200.0 694.2,3239.9 740.2,3239.9" fill="#0068E0"/><polygon points="816.2,3241.2 793.2,3281.1 839.2,3281.1" fill="#0068E0"/><polygon points="915.1,3189.6 892.1,3229.5 938.1,3229.5" fill="#0068E0"/><polygon points="1014.0,3051.4 991.0,3091.3 1037.0,3091.3" fill="#0068E0"/><polygon points="1113.0,2929.0 1090.0,2968.9 1136.0,2968.9" fill="#0068E0"/><polygon points="1211.9,2830.8 1188.9,2870.7 1234.9,2870.7" fill="#0068E0"/><polygon points="1310.9,2774.7 1287.9,2814.6 1333.9,2814.6" fill="#0068E0"/><polygon points="1409.8,2740.9 1386.8,2780.8 1432.8,2780.8" fill="#0068E0"/><polygon points="1508.7,2750.4 1485.7,2790.3 1531.7,2790.3" fill="#0068E0"/><polygon points="1607.7,2731.4 1584.7,2771.3 1630.7,2771.3" fill="#0068E0"/><polygon points="1706.6,2745.2 1683.6,2785.1 1729.6,2785.1" fill="#0068E0"/><polygon points="1805.6,2756.2 1782.6,2796.1 1828.6,2796.1" fill="#0068E0"/><polygon points="1904.5,2758.4 1881.5,2798.3 1927.5,2798.3" fill="#0068E0"/>
<polyline points="420.4,3043.3 519.3,3168.6 618.3,3262.1 717.2,3332.2 816.2,3352.6 915.1,3320.2 1014.0,3227.8 1113.0,3102.5 1211.9,2977.1 1310.9,2867.0 1409.8,2785.0 1508.7,2761.0 1607.7,2754.5 1706.6,2759.0 1805.6,2764.2 1904.5,2773.4" fill="none" stroke="#00AE68" stroke-width="8.6" stroke-linejoin="round"/>
<polygon points="420.4,3069.9 397.4,3030.0 443.4,3030.0" fill="#00AE68"/><polygon points="519.3,3195.2 496.3,3155.3 542.3,3155.3" fill="#00AE68"/><polygon points="618.3,3288.7 595.3,3248.8 641.3,3248.8" fill="#00AE68"/><polygon points="717.2,3358.8 694.2,3318.9 740.2,3318.9" fill="#00AE68"/><polygon points="816.2,3379.2 793.2,3339.3 839.2,3339.3" fill="#00AE68"/><polygon points="915.1,3346.8 892.1,3306.9 938.1,3306.9" fill="#00AE68"/><polygon points="1014.0,3254.4 991.0,3214.5 1037.0,3214.5" fill="#00AE68"/><polygon points="1113.0,3129.1 1090.0,3089.2 1136.0,3089.2" fill="#00AE68"/><polygon points="1211.9,3003.7 1188.9,2963.8 1234.9,2963.8" fill="#00AE68"/><polygon points="1310.9,2893.6 1287.9,2853.7 1333.9,2853.7" fill="#00AE68"/><polygon points="1409.8,2811.6 1386.8,2771.7 1432.8,2771.7" fill="#00AE68"/><polygon points="1508.7,2787.6 1485.7,2747.7 1531.7,2747.7" fill="#00AE68"/><polygon points="1607.7,2781.1 1584.7,2741.2 1630.7,2741.2" fill="#00AE68"/><polygon points="1706.6,2785.6 1683.6,2745.7 1729.6,2745.7" fill="#00AE68"/><polygon points="1805.6,2790.8 1782.6,2750.9 1828.6,2750.9" fill="#00AE68"/><polygon points="1904.5,2800.0 1881.5,2760.1 1927.5,2760.1" fill="#00AE68"/>
<polyline points="420.4,2964.1 519.3,3025.7 618.3,3091.6 717.2,3135.4 816.2,3143.9 915.1,3133.3 1014.0,3065.8 1113.0,2991.4 1211.9,2919.2 1310.9,2842.7 1409.8,2791.5 1508.7,2778.3 1607.7,2776.0 1706.6,2771.7 1805.6,2784.9 1904.5,2791.5" fill="none" stroke="#C874DA" stroke-width="8.6" stroke-linejoin="round"/>
<polygon points="420.4,2939.7 444.8,2964.1 420.4,2988.5 396.0,2964.1" fill="#C874DA"/><polygon points="519.3,3001.3 543.7,3025.7 519.3,3050.1 494.9,3025.7" fill="#C874DA"/><polygon points="618.3,3067.2 642.7,3091.6 618.3,3116.0 593.9,3091.6" fill="#C874DA"/><polygon points="717.2,3111.0 741.6,3135.4 717.2,3159.8 692.8,3135.4" fill="#C874DA"/><polygon points="816.2,3119.5 840.6,3143.9 816.2,3168.3 791.8,3143.9" fill="#C874DA"/><polygon points="915.1,3108.9 939.5,3133.3 915.1,3157.7 890.7,3133.3" fill="#C874DA"/><polygon points="1014.0,3041.4 1038.4,3065.8 1014.0,3090.2 989.6,3065.8" fill="#C874DA"/><polygon points="1113.0,2967.0 1137.4,2991.4 1113.0,3015.8 1088.6,2991.4" fill="#C874DA"/><polygon points="1211.9,2894.8 1236.3,2919.2 1211.9,2943.6 1187.5,2919.2" fill="#C874DA"/><polygon points="1310.9,2818.3 1335.3,2842.7 1310.9,2867.1 1286.5,2842.7" fill="#C874DA"/><polygon points="1409.8,2767.1 1434.2,2791.5 1409.8,2815.9 1385.4,2791.5" fill="#C874DA"/><polygon points="1508.7,2753.9 1533.1,2778.3 1508.7,2802.7 1484.3,2778.3" fill="#C874DA"/><polygon points="1607.7,2751.6 1632.1,2776.0 1607.7,2800.4 1583.3,2776.0" fill="#C874DA"/><polygon points="1706.6,2747.3 1731.0,2771.7 1706.6,2796.1 1682.2,2771.7" fill="#C874DA"/><polygon points="1805.6,2760.5 1830.0,2784.9 1805.6,2809.3 1781.2,2784.9" fill="#C874DA"/><polygon points="1904.5,2767.1 1928.9,2791.5 1904.5,2815.9 1880.1,2791.5" fill="#C874DA"/>
<polyline points="420.4,2942.9 519.3,3051.2 618.3,3159.6 717.2,3245.8 816.2,3277.3 915.1,3229.5 1014.0,3107.0 1113.0,3024.6 1211.9,2889.5 1310.9,2819.4 1409.8,2775.0 1508.7,2776.4 1607.7,2765.4 1706.6,2769.8 1805.6,2777.7 1904.5,2770.7" fill="none" stroke="#E09C00" stroke-width="8.6" stroke-linejoin="round"/>
<polygon points="394.5,2942.9 434.5,2919.9 434.5,2965.9" fill="#E09C00"/><polygon points="493.4,3051.2 533.4,3028.2 533.4,3074.2" fill="#E09C00"/><polygon points="592.4,3159.6 632.4,3136.6 632.4,3182.6" fill="#E09C00"/><polygon points="691.3,3245.8 731.3,3222.8 731.3,3268.8" fill="#E09C00"/><polygon points="790.3,3277.3 830.3,3254.3 830.3,3300.3" fill="#E09C00"/><polygon points="889.2,3229.5 929.2,3206.5 929.2,3252.5" fill="#E09C00"/><polygon points="988.1,3107.0 1028.1,3084.0 1028.1,3130.0" fill="#E09C00"/><polygon points="1087.1,3024.6 1127.1,3001.6 1127.1,3047.6" fill="#E09C00"/><polygon points="1186.0,2889.5 1226.0,2866.5 1226.0,2912.5" fill="#E09C00"/><polygon points="1285.0,2819.4 1325.0,2796.4 1325.0,2842.4" fill="#E09C00"/><polygon points="1383.9,2775.0 1423.9,2752.0 1423.9,2798.0" fill="#E09C00"/><polygon points="1482.8,2776.4 1522.8,2753.4 1522.8,2799.4" fill="#E09C00"/><polygon points="1581.8,2765.4 1621.8,2742.4 1621.8,2788.4" fill="#E09C00"/><polygon points="1680.7,2769.8 1720.7,2746.8 1720.7,2792.8" fill="#E09C00"/><polygon points="1779.7,2777.7 1819.7,2754.7 1819.7,2800.7" fill="#E09C00"/><polygon points="1878.6,2770.7 1918.6,2747.7 1918.6,2793.7" fill="#E09C00"/>
<rect x="1545" y="3078" width="498.5" height="570" fill="#fff"/>
<text x="1693.8" y="3145.2" style='font-family:"Liberation Serif","Noto Serif CJK SC",serif;font-weight:bold;font-size:69px'>Point B</text>
<line x1="1593" y1="3198.0" x2="1701.5" y2="3198.0" stroke="#505050" stroke-width="8.7" stroke-linecap="round"/>
<rect x="1629.5" y="3180.5" width="35" height="35" fill="#505050"/>
<text x="1715.5" y="3217.8" style='font-family:"Liberation Serif","Noto Serif CJK SC",serif;font-weight:bold;font-size:56px'>R<tspan dy="15" style="font-size:34.5px">a</tspan><tspan dy="-15">=1.0 R</tspan><tspan dy="15" style="font-size:34.5px">l</tspan><tspan dy="-15">=1.0</tspan></text>
<line x1="1593" y1="3278.8" x2="1701.5" y2="3278.8" stroke="#FF4040" stroke-width="8.7" stroke-linecap="round"/>
<circle cx="1647.0" cy="3278.8" r="19" fill="#FF4040"/>
<text x="1715.5" y="3298.6" style='font-family:"Liberation Serif","Noto Serif CJK SC",serif;font-weight:bold;font-size:56px'>R<tspan dy="15" style="font-size:34.5px">a</tspan><tspan dy="-15">=1.0 R</tspan><tspan dy="15" style="font-size:34.5px">l</tspan><tspan dy="-15">=0.8</tspan></text>
<line x1="1593" y1="3359.6" x2="1701.5" y2="3359.6" stroke="#0068E0" stroke-width="8.7" stroke-linecap="round"/>
<polygon points="1647.0,3333.0 1624.0,3372.9 1670.0,3372.9" fill="#0068E0"/>
<text x="1715.5" y="3379.4" style='font-family:"Liberation Serif","Noto Serif CJK SC",serif;font-weight:bold;font-size:56px'>R<tspan dy="15" style="font-size:34.5px">a</tspan><tspan dy="-15">=1.0 R</tspan><tspan dy="15" style="font-size:34.5px">l</tspan><tspan dy="-15">=0.6</tspan></text>
<line x1="1593" y1="3440.4" x2="1701.5" y2="3440.4" stroke="#00AE68" stroke-width="8.7" stroke-linecap="round"/>
<polygon points="1647.0,3467.0 1624.0,3427.1 1670.0,3427.1" fill="#00AE68"/>
<text x="1715.5" y="3460.2" style='font-family:"Liberation Serif","Noto Serif CJK SC",serif;font-weight:bold;font-size:56px'>R<tspan dy="15" style="font-size:34.5px">a</tspan><tspan dy="-15">=0.8 R</tspan><tspan dy="15" style="font-size:34.5px">l</tspan><tspan dy="-15">=1.0</tspan></text>
<line x1="1593" y1="3521.2" x2="1701.5" y2="3521.2" stroke="#C874DA" stroke-width="8.7" stroke-linecap="round"/>
<polygon points="1647.0,3496.8 1671.4,3521.2 1647.0,3545.6 1622.6,3521.2" fill="#C874DA"/>
<text x="1715.5" y="3541.0" style='font-family:"Liberation Serif","Noto Serif CJK SC",serif;font-weight:bold;font-size:56px'>R<tspan dy="15" style="font-size:34.5px">a</tspan><tspan dy="-15">=0.6 R</tspan><tspan dy="15" style="font-size:34.5px">l</tspan><tspan dy="-15">=1.0</tspan></text>
<line x1="1593" y1="3602.0" x2="1701.5" y2="3602.0" stroke="#E09C00" stroke-width="8.7" stroke-linecap="round"/>
<polygon points="1621.1,3602.0 1661.1,3579.0 1661.1,3625.0" fill="#E09C00"/>
<text x="1715.5" y="3621.8" style='font-family:"Liberation Serif","Noto Serif CJK SC",serif;font-weight:bold;font-size:56px'>R<tspan dy="15" style="font-size:34.5px">a</tspan><tspan dy="-15">=0.8 R</tspan><tspan dy="15" style="font-size:34.5px">l</tspan><tspan dy="-15">=0.8</tspan></text>
<g fill="#000">
<rect x="413.75" y="2646.5" width="11.5" height="18.4"/>
<rect x="413.75" y="3658.1" width="11.5" height="18.4"/>
<rect x="527.18" y="2646.5" width="11.5" height="6.4"/>
<rect x="527.18" y="3670.1" width="11.5" height="6.4"/>
<rect x="640.61" y="2646.5" width="11.5" height="18.4"/>
<rect x="640.61" y="3658.1" width="11.5" height="18.4"/>
<rect x="754.04" y="2646.5" width="11.5" height="6.4"/>
<rect x="754.04" y="3670.1" width="11.5" height="6.4"/>
<rect x="867.47" y="2646.5" width="11.5" height="18.4"/>
<rect x="867.47" y="3658.1" width="11.5" height="18.4"/>
<rect x="980.90" y="2646.5" width="11.5" height="6.4"/>
<rect x="980.90" y="3670.1" width="11.5" height="6.4"/>
<rect x="1094.33" y="2646.5" width="11.5" height="18.4"/>
<rect x="1094.33" y="3658.1" width="11.5" height="18.4"/>
<rect x="1207.76" y="2646.5" width="11.5" height="6.4"/>
<rect x="1207.76" y="3670.1" width="11.5" height="6.4"/>
<rect x="1321.19" y="2646.5" width="11.5" height="18.4"/>
<rect x="1321.19" y="3658.1" width="11.5" height="18.4"/>
<rect x="1434.62" y="2646.5" width="11.5" height="6.4"/>
<rect x="1434.62" y="3670.1" width="11.5" height="6.4"/>
<rect x="1548.05" y="2646.5" width="11.5" height="18.4"/>
<rect x="1548.05" y="3658.1" width="11.5" height="18.4"/>
<rect x="1661.48" y="2646.5" width="11.5" height="6.4"/>
<rect x="1661.48" y="3670.1" width="11.5" height="6.4"/>
<rect x="1774.91" y="2646.5" width="11.5" height="18.4"/>
<rect x="1774.91" y="3658.1" width="11.5" height="18.4"/>
<rect x="1888.34" y="2646.5" width="11.5" height="6.4"/>
<rect x="1888.34" y="3670.1" width="11.5" height="6.4"/>
<rect x="2001.77" y="2646.5" width="11.5" height="18.4"/>
<rect x="2001.77" y="3658.1" width="11.5" height="18.4"/>
<rect x="334.5" y="2784.65" width="18.4" height="11.5"/>
<rect x="2074.5" y="2784.65" width="20" height="11.5"/>
<rect x="334.5" y="3081.95" width="18.4" height="11.5"/>
<rect x="2074.5" y="3081.95" width="20" height="11.5"/>
<rect x="334.5" y="3379.15" width="18.4" height="11.5"/>
<rect x="2074.5" y="3379.15" width="20" height="11.5"/>
<rect x="334.5" y="2933.25" width="6.4" height="11.5"/>
<rect x="2088.1" y="2933.25" width="6.4" height="11.5"/>
<rect x="334.5" y="3230.55" width="6.4" height="11.5"/>
<rect x="2088.1" y="3230.55" width="6.4" height="11.5"/>
<rect x="334.5" y="3527.75" width="6.4" height="11.5"/>
<rect x="2088.1" y="3527.75" width="6.4" height="11.5"/>
</g>
<rect x="329.75" y="2641.75" width="1769.5" height="1039.5" fill="none" stroke="#000" stroke-width="11.5"/>
<rect x="1264" y="3066.5" width="335" height="559.5" fill="#fff"/>
<g transform="translate(1349.0,3093.8) scale(0.868)">
<polygon points="1.2,0 15.2,0 16.4,451 1.6,451" fill="#000"/>
<polygon points="183.3,117 197.3,117 198.6,568 183.9,568" fill="#000"/>
<g stroke="#000" fill="none" stroke-linecap="butt">
<path d="M18,143.6 L181,142.2" stroke-width="3.4"/>
<path d="M15.5,228.4 L118,227" stroke-width="3.4"/>
<path d="M84.5,339.6 L184,337.9" stroke-width="3.4"/>
<path d="M104.6,234 L106.6,334" stroke-width="2.7"/>
</g>
<g fill="#000">
<polygon points="15.5,143.6 29.5,134.2 24,143.6 29.5,153"/>
<polygon points="183.5,142.2 169.5,132.8 175,142.2 169.5,151.6"/>
<polygon points="104.5,229.5 95.5,245.5 104.7,240 114,245.3"/>
<polygon points="106.8,338 97.5,322.2 106.7,327.6 116,322"/>
</g>
<text transform="translate(-71.3,37.9) scale(0.985,1)" style='font-family:"Liberation Sans","Noto Sans CJK SC",sans-serif;font-weight:bold;font-size:64px'>A</text>
<text transform="translate(-76.1,255) scale(0.713,1)" style='font-family:"Liberation Sans","Noto Sans CJK SC",sans-serif;font-weight:bold;font-size:68.6px'>E</text>
<text transform="translate(-75.8,436.9) scale(0.808,1)" style='font-family:"Liberation Sans","Noto Sans CJK SC",sans-serif;font-weight:bold;font-size:68.6px'>B</text>
<text transform="translate(224.3,153.2) scale(0.794,1)" style='font-family:"Liberation Sans","Noto Sans CJK SC",sans-serif;font-weight:bold;font-size:68.6px'>C</text>
<text transform="translate(229.4,363.6) scale(0.81,1)" style='font-family:"Liberation Sans","Noto Sans CJK SC",sans-serif;font-weight:bold;font-size:61px'>F</text>
<text transform="translate(227.4,565.4) scale(0.932,1)" style='font-family:"Liberation Sans","Noto Sans CJK SC",sans-serif;font-weight:bold;font-size:68.6px'>D</text>
<text transform="translate(90.3,100.3) scale(1.13,1)" style='font-family:"Liberation Sans","Noto Sans CJK SC",sans-serif;font-size:45.5px'>h</text>
<text transform="translate(137,292.2) scale(0.8,1)" style='font-family:"Liberation Sans","Noto Sans CJK SC",sans-serif;font-size:50px'>s</text>
<rect x="-22.3" y="420.4" width="66" height="47.5" fill="none" stroke="#FF0000" stroke-width="4.2"/>
</g>
<text x="419.5" y="3768.6" text-anchor="middle" style='font-family:"Liberation Serif","Noto Serif CJK SC",serif;font-weight:bold;font-size:81px'>0</text>
<text x="646.4" y="3768.6" text-anchor="middle" style='font-family:"Liberation Serif","Noto Serif CJK SC",serif;font-weight:bold;font-size:81px'>2</text>
<text x="873.2" y="3768.6" text-anchor="middle" style='font-family:"Liberation Serif","Noto Serif CJK SC",serif;font-weight:bold;font-size:81px'>4</text>
<text x="1100.1" y="3768.6" text-anchor="middle" style='font-family:"Liberation Serif","Noto Serif CJK SC",serif;font-weight:bold;font-size:81px'>6</text>
<text x="1326.9" y="3768.6" text-anchor="middle" style='font-family:"Liberation Serif","Noto Serif CJK SC",serif;font-weight:bold;font-size:81px'>8</text>
<text x="1553.8" y="3768.6" text-anchor="middle" style='font-family:"Liberation Serif","Noto Serif CJK SC",serif;font-weight:bold;font-size:81px'>10</text>
<text x="1780.7" y="3768.6" text-anchor="middle" style='font-family:"Liberation Serif","Noto Serif CJK SC",serif;font-weight:bold;font-size:81px'>12</text>
<text x="2007.5" y="3768.6" text-anchor="middle" style='font-family:"Liberation Serif","Noto Serif CJK SC",serif;font-weight:bold;font-size:81px'>14</text>
<text x="304.0" y="2814.0" text-anchor="end" style='font-family:"Liberation Serif","Noto Serif CJK SC",serif;font-weight:bold;font-size:81px'>1.0</text>
<text x="304.0" y="3111.3" text-anchor="end" style='font-family:"Liberation Serif","Noto Serif CJK SC",serif;font-weight:bold;font-size:81px'>0.9</text>
<text x="304.0" y="3408.5" text-anchor="end" style='font-family:"Liberation Serif","Noto Serif CJK SC",serif;font-weight:bold;font-size:81px'>0.8</text>
<text x="304.0" y="3705.8" text-anchor="end" style='font-family:"Liberation Serif","Noto Serif CJK SC",serif;font-weight:bold;font-size:81px'>0.7</text>
<text x="1132.9" y="3857.6" style='font-family:"Liberation Serif","Noto Serif CJK SC",serif;font-weight:bold;font-size:103.5px'>s (mm)</text>
<g transform="translate(163.2,3286.7) rotate(-90)"><text transform="translate(-2.6,0) scale(1.045,1)" style='font-family:"Liberation Serif","Noto Serif CJK SC",serif;font-size:105px;stroke:#000;stroke-width:1.1px'>K</text><text transform="translate(76.5,28.3) scale(0.72,1)" style='font-family:"Liberation Serif","Noto Serif CJK SC",serif;font-size:72px;stroke:#000;stroke-width:1.3px'>1</text><text transform="translate(110,0) scale(1,1)" style='font-family:"Liberation Serif","Noto Serif CJK SC",serif;font-size:105px;stroke:#000;stroke-width:1.1px'>/</text><text transform="translate(138.6,0) scale(1.045,1)" style='font-family:"Liberation Serif","Noto Serif CJK SC",serif;font-size:105px;stroke:#000;stroke-width:1.1px'>K</text><text transform="translate(214.2,-41) scale(1,1)" style='font-family:"Liberation Serif","Noto Serif CJK SC",serif;font-size:72px;stroke:#000;stroke-width:1.3px'>0</text><text transform="translate(216.3,28.3) scale(0.72,1)" style='font-family:"Liberation Serif","Noto Serif CJK SC",serif;font-size:72px;stroke:#000;stroke-width:1.3px'>1</text></g>
<text transform="translate(-17.5,2737.8999999999996) scale(1.02,0.806)" style='font-family:"Noto Serif CJK SC","Liberation Serif",serif;font-size:105px;stroke:#000;stroke-width:1.3px'>（</text>
<text transform="translate(98.8,2742.3999999999996) scale(1,1.05)" style='font-family:"Liberation Serif","Noto Serif CJK SC",serif;font-weight:bold;font-size:101px'>c</text>
<text transform="translate(151.4,2737.8999999999996) scale(1.02,0.806)" style='font-family:"Noto Serif CJK SC","Liberation Serif",serif;font-size:105px;stroke:#000;stroke-width:1.3px'>）</text>
</svg>
</body></html>
